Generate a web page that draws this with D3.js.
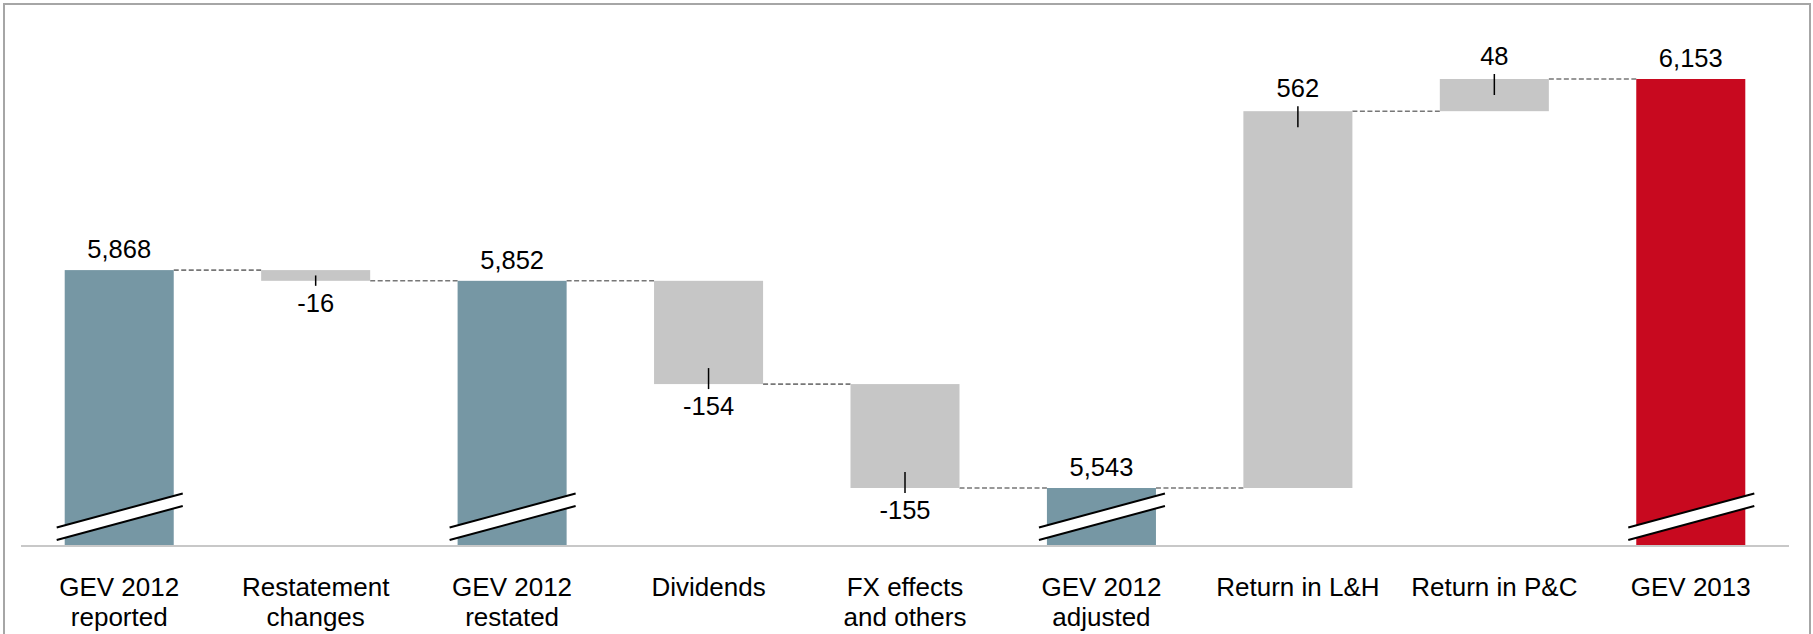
<!DOCTYPE html>
<html><head><meta charset="utf-8">
<script src="https://cdn.jsdelivr.net/npm/d3@7"></script>
<style>
body{margin:0;background:#fff}
text{font-family:"Liberation Sans",Arial,Helvetica,sans-serif;fill:#000}
</style>
</head><body>
<svg id="chart" width="1813" height="634"></svg>
<script>
// ---- data ----
const categories = ["GEV 2012 reported","Restatement changes","GEV 2012 restated","Dividends","FX effects and others","GEV 2012 adjusted","Return in L&H","Return in P&C","GEV 2013"];
const categoryLines = [["GEV 2012","reported"],["Restatement","changes"],["GEV 2012","restated"],["Dividends"],["FX effects","and others"],["GEV 2012","adjusted"],["Return in L&H"],["Return in P&C"],["GEV 2013"]];
const values = [5868, -16, 5852, -154, -155, 5543, 562, 48, 6153];
const kinds = ["total","delta","total","delta","delta","total","delta","delta","final"];
const valueLabels = ["5,868","-16","5,852","-154","-155","5,543","562","48","6,153"];
const axisBreakValue = 5458;

// ---- layout ----
const W = 1813, H = 634;
const svg = d3.select("#chart");
svg.append("rect").attr("width", W).attr("height", H).attr("fill", "#fff");
svg.append("rect").attr("x", 4).attr("y", 4).attr("width", 1806).attr("height", 660)
  .attr("fill", "none").attr("stroke", "#a6a6a6").attr("stroke-width", 2);

const x = d3.scaleBand().domain(categories).range([21, 1789]).paddingInner(0.445).paddingOuter(0.2225);
const y = d3.scaleLinear().domain([axisBreakValue, 6153]).range([545, 79]);

const colors = {total: "#7697a4", delta: "#c6c6c6", final: "#c8091f"};

// compute bar extents
let running = 0;
const bars = categories.map((c, i) => {
  let a, b;
  if (kinds[i] === "delta") { a = running; b = running + values[i]; running = b; }
  else { a = axisBreakValue; b = values[i]; running = b; }
  return {cat: c, i, kind: kinds[i], v: values[i], lo: Math.min(a, b), hi: Math.max(a, b), end: running, label: valueLabels[i]};
});

// connectors
const gConn = svg.append("g");
bars.slice(0, -1).forEach((d, i) => {
  const yy = y(d.end);
  gConn.append("line")
    .attr("x1", x(d.cat) + x.bandwidth()).attr("x2", x(bars[i + 1].cat))
    .attr("y1", yy).attr("y2", yy)
    .attr("stroke", "#777").attr("stroke-width", 1.6).attr("stroke-dasharray", "5,2.5");
});

// bars
svg.append("g").selectAll("rect").data(bars).join("rect")
  .attr("x", d => x(d.cat)).attr("width", x.bandwidth())
  .attr("y", d => y(d.hi)).attr("height", d => y(d.lo) - y(d.hi))
  .attr("fill", d => colors[d.kind]);

// baseline
svg.append("line").attr("x1", 21).attr("x2", 1789).attr("y1", 546).attr("y2", 546)
  .attr("stroke", "#c8c8c8").attr("stroke-width", 2);

// axis break marks on total bars
const yb = y(axisBreakValue);
bars.filter(d => d.kind !== "delta").forEach(d => {
  const x0 = x(d.cat) - 8, x1 = x(d.cat) + x.bandwidth() + 9;
  const g = svg.append("g");
  g.append("polygon")
    .attr("points", [[x0, yb - 5], [x1, yb - 39], [x1, yb - 51.5], [x0, yb - 17.5]].map(p => p.join(",")).join(" "))
    .attr("fill", "#fff");
  g.append("line").attr("x1", x0).attr("y1", yb - 5).attr("x2", x1).attr("y2", yb - 39)
    .attr("stroke", "#000").attr("stroke-width", 2);
  g.append("line").attr("x1", x0).attr("y1", yb - 17.5).attr("x2", x1).attr("y2", yb - 51.5)
    .attr("stroke", "#000").attr("stroke-width", 2);
});

// delta ticks
bars.filter(d => d.kind === "delta").forEach(d => {
  const cx = x(d.cat) + x.bandwidth() / 2;
  const h = y(d.lo) - y(d.hi);
  const inside = Math.min(16, h / 2);
  let y1, y2;
  if (d.v >= 0) { y1 = y(d.hi) - 5; y2 = y(d.hi) + inside; }
  else { y1 = y(d.lo) - inside; y2 = y(d.lo) + 5; }
  svg.append("line").attr("x1", cx).attr("x2", cx).attr("y1", y1).attr("y2", y2)
    .attr("stroke", "#000").attr("stroke-width", 1.5);
});

// value labels
svg.append("g").selectAll("text").data(bars).join("text")
  .attr("x", d => x(d.cat) + x.bandwidth() / 2)
  .attr("y", d => d.kind !== "delta" ? y(d.hi) - 12 : (d.v >= 0 ? y(d.hi) - 14 : y(d.lo) + 31))
  .attr("text-anchor", "middle").attr("font-size", 25.5)
  .text(d => d.label);

// category labels
const gCat = svg.append("g");
categories.forEach((c, i) => {
  const t = gCat.append("text").attr("text-anchor", "middle").attr("font-size", 26)
    .attr("x", x(c) + x.bandwidth() / 2).attr("y", 596);
  categoryLines[i].forEach((ln, k) => {
    t.append("tspan").attr("x", x(c) + x.bandwidth() / 2).attr("y", 596 + k * 30).text(ln);
  });
});
</script>
</body></html>
